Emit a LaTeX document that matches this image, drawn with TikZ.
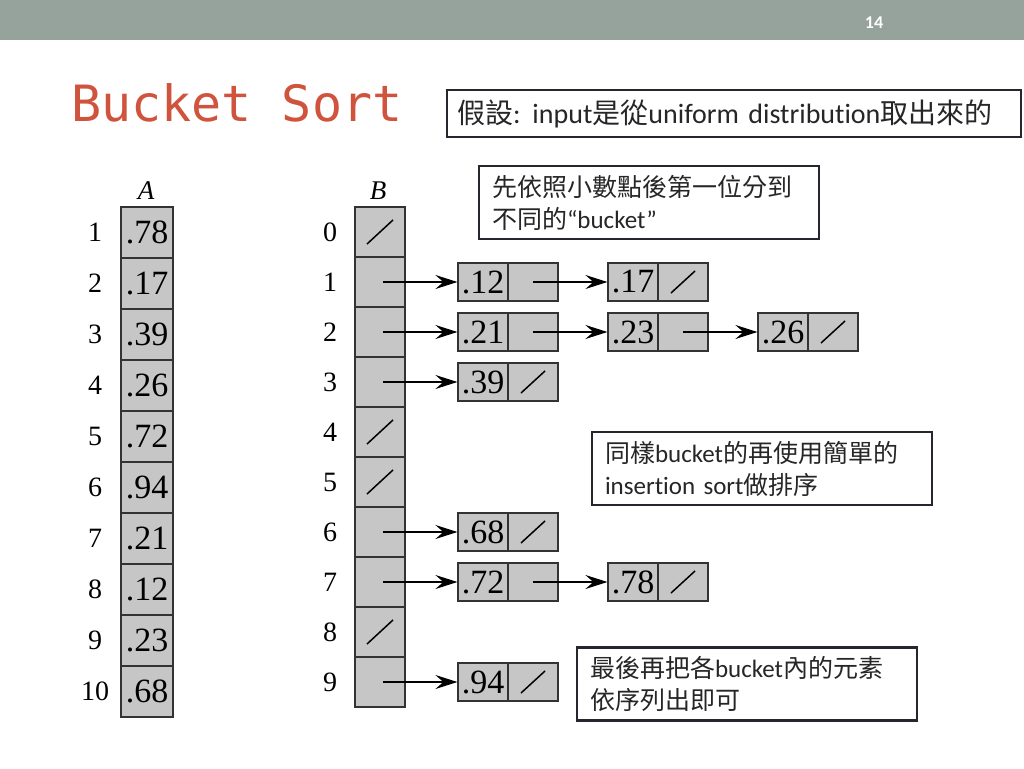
\documentclass[tikz,border=0pt]{standalone}
\usepackage{fontspec}
\setmainfont{Liberation Serif}
\newfontfamily\calib[Ligatures=NoCommon]{Carlito}
\newfontfamily\cjk{Noto Sans CJK TC}
\newfontfamily\monof{DejaVu Sans Mono}
\usetikzlibrary{arrows.meta}
\definecolor{cellgray}{RGB}{198,198,198}
\definecolor{bandgray}{RGB}{149,163,156}
\definecolor{titlered}{RGB}{207,83,61}
\definecolor{boxline}{RGB}{38,38,46}
\newcommand{\zh}[1]{{\cjk #1}}
\tikzstyle{acell}=[draw=black!80,fill=cellgray,line width=1.2pt,minimum width=52pt,minimum height=51pt,inner sep=0pt,font=\fontsize{34}{34}\selectfont]
\tikzstyle{bcell}=[draw=black!80,fill=cellgray,line width=1.2pt,minimum width=50pt,minimum height=50pt,inner sep=0pt]
\tikzstyle{listcell}=[draw=black!80,fill=cellgray,line width=1.2pt,minimum width=50pt,minimum height=38pt,inner sep=0pt,font=\fontsize{34}{34}\selectfont]
\tikzstyle{index}=[font=\fontsize{28}{28}\selectfont]
\tikzstyle{arrayname}=[font=\itshape\fontsize{27}{27}\selectfont]
\tikzstyle{link}=[draw,line width=1.1pt,-{Stealth[length=22pt,width=14pt,inset=8pt]}]
\tikzstyle{nil}=[draw,line width=1.5pt]
\tikzstyle{callout}=[draw=boxline,line width=2.5pt,fill=white,align=left,inner ysep=0pt,minimum width=340pt,minimum height=73pt,text width=314pt,font=\calib\fontsize{25}{32}\selectfont,text=black!85]

\begin{document}
\begin{tikzpicture}[x=1pt,y=-1pt]
    \useasboundingbox (0,0) rectangle (1024,768);
    % header band and title
    \fill[bandgray] (0,0) rectangle (1024,40);
    \node[text=white,font=\calib\bfseries\fontsize{18}{18}\selectfont] (page) at (874,23) {14};
    \node[anchor=base west,inner sep=0pt,text=titlered,font=\monof\fontsize{50}{50}\selectfont] (title) at (71,121) {Bucket Sort};
    \node[draw=boxline,line width=2.5pt,minimum width=574pt,minimum height=47pt,text width=554pt,inner xsep=10pt,align=left,font=\calib\fontsize{28}{30}\selectfont,text=black!85] (assume) at (734,113.5)
        {\zh{假設}:\hspace{-2pt} input\zh{是從}uniform distribution\zh{取出來的}};
    % array A
    \node[arrayname] (alabel) at (146,191) {A};
    \foreach \i/\val in {1/78, 2/17, 3/39, 4/26, 5/72, 6/94, 7/21, 8/12, 9/23, 10/68} {
        \node[acell] (a\i) at (147,{232.5+51*(\i-1)}) {.\val};
        \node[index] (ai\i) at (95,{232.5+51*(\i-1)}) {\i};
    }
    % array B of buckets
    \node[arrayname] (blabel) at (378,191) {B};
    \foreach \j in {0,...,9} {
        \node[bcell] (b\j) at (380,{232+50*\j}) {};
        \node[index] (bi\j) at (330,{232+50*\j}) {\j};
    }
    \foreach \j in {0,4,5,8}
        \path[nil] ([shift={(-13pt,-12pt)}]b\j.center) -- ([shift={(13pt,12pt)}]b\j.center);
    % list elements: value cell and pointer cell
    \foreach \row/\col/\val in {1/1/12, 1/2/17, 2/1/21, 2/2/23, 2/3/26, 3/1/39, 6/1/68, 7/1/72, 7/2/78, 9/1/94} {
        \node[listcell] (v\row\col) at ({483+150*(\col-1)},{232+50*\row}) {.\val};
        \node[listcell] (p\row\col) at ({533+150*(\col-1)},{232+50*\row}) {};
    }
    \foreach \row/\col in {1/2, 2/3, 3/1, 6/1, 7/2, 9/1}
        \path[nil] ([shift={(-12pt,-11pt)}]p\row\col.center) -- ([shift={(12pt,11pt)}]p\row\col.center);
    % links from buckets and between elements
    \foreach \row in {1,2,3,6,7,9}
        \path[link] ([xshift=3pt]b\row.center) -- (v\row1.west);
    \foreach \source/\dest in {p11/v12, p21/v22, p22/v23, p71/v72}
        \path[link] (\source.center) -- (\dest.west);
    % remarks
    \node[callout] (split) at (649,202.5) {\zh{先依照小數點後第一位分到}\\\zh{不同的}“bucket”};
    \node[callout] (sortb) at (762,468.5) {\zh{同樣}bucket\zh{的再使用簡單的}\\insertion sort\zh{做排序}};
    \node[callout] (concat) at (747,684) {\zh{最後再把各}bucket\zh{內的元素}\\\zh{依序列出即可}};
\end{tikzpicture}
\end{document}
